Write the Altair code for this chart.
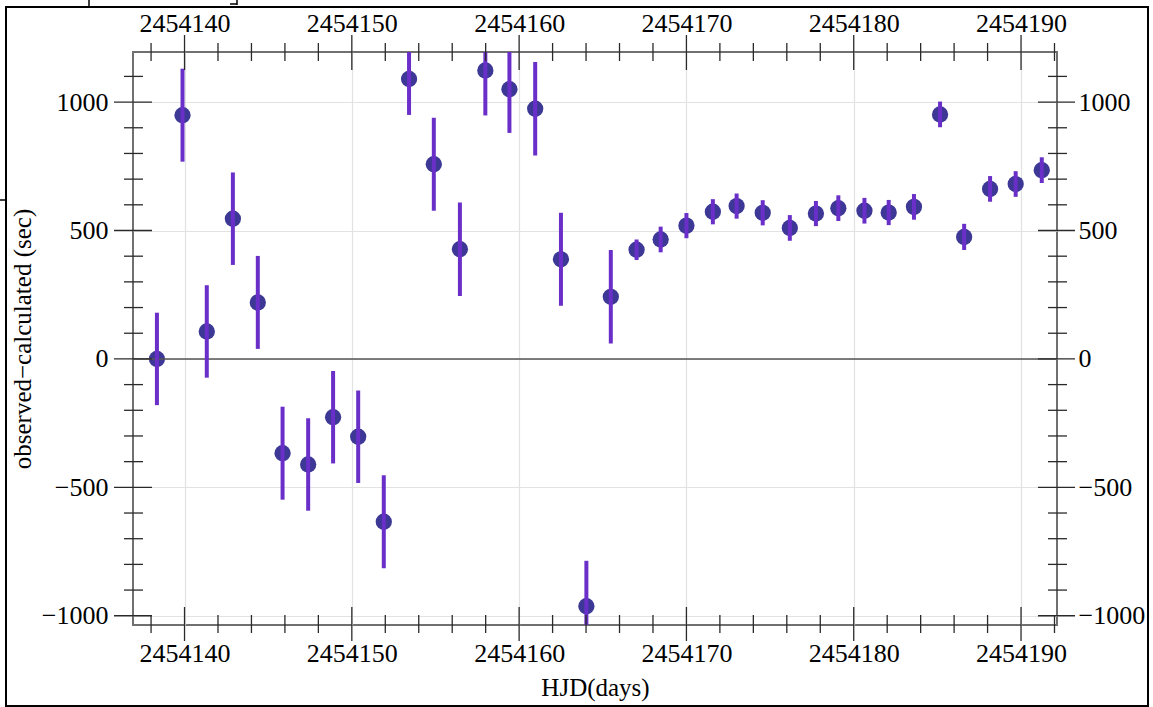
import altair as alt
import pandas as pd

# Timing residuals: heliocentric Julian date, O-C residual (s) and 1-sigma error (s)
hjd = [2454138.35, 2454139.88, 2454141.33, 2454142.89, 2454144.38, 2454145.86,
       2454147.39, 2454148.88, 2454150.38, 2454151.91, 2454153.42, 2454154.90,
       2454156.46, 2454157.98, 2454159.42, 2454160.96, 2454162.50, 2454164.02,
       2454165.48, 2454167.02, 2454168.46, 2454170.00, 2454171.58, 2454173.00,
       2454174.56, 2454176.18, 2454177.74, 2454179.08, 2454180.64, 2454182.09,
       2454183.60, 2454185.16, 2454186.60, 2454188.15, 2454189.68, 2454191.24]
o_minus_c = [0, 949, 107, 546, 220, -367,
             -411, -227, -303, -634, 1090, 758,
             427, 1123, 1050, 974, 388, -963,
             242, 425, 465, 519, 573, 595,
             569, 510, 566, 587, 577, 570,
             592, 952, 475, 662, 681, 735]
sigma = [180, 181, 180, 180, 181, 181,
         180, 180, 180, 181, 140, 181,
         182, 175, 170, 182, 181, 177,
         182, 40, 50, 49, 49, 49,
         49, 50, 49, 50, 50, 49,
         50, 50, 51, 50, 50, 50]

# Frame ticks
x_major = [2454140, 2454150, 2454160, 2454170, 2454180, 2454190]
x_minor = [2454138, 2454142, 2454144, 2454146, 2454148, 2454152, 2454154,
           2454156, 2454158, 2454162, 2454164, 2454166, 2454168, 2454172,
           2454174, 2454176, 2454178, 2454182, 2454184, 2454186, 2454188,
           2454192]
y_major = [-1000, -500, 0, 500, 1000]
y_minor = [-900, -800, -700, -600, -400, -300, -200, -100, 100, 200, 300,
           400, 600, 700, 800, 900, 1100]

W, H = 924, 573
FONT = "Liberation Serif"
TICK = "#2a2a2a"
DOT = "#3d3896"
BAR = "#6a2fc8"

df = pd.DataFrame({"hjd": hjd, "oc": o_minus_c, "err": sigma})
df["lo"] = df["oc"] - df["err"]
df["hi"] = df["oc"] + df["err"]

xs = alt.Scale(domain=[2454136.92, 2454192.15], zero=False, nice=False)
ys = alt.Scale(domain=[-1036, 1195], zero=False, nice=False)

lab = dict(labelFont=FONT, labelFontSize=26, labelColor="black",
           titleFont=FONT, titleFontSize=25, titleFontWeight="normal",
           titleColor="black", ticks=False, domain=False, format="d",
           labelFlush=False, labelOverlap=False)

# Data points with bottom / left axes (and grid)
points = alt.Chart(df).mark_circle(size=265, color=DOT, opacity=1).encode(
    x=alt.X("hjd:Q", scale=xs,
            axis=alt.Axis(orient="bottom", values=x_major,
                          title="HJD(days)", grid=True, gridColor="#e2e2e2",
                          gridWidth=1.2, labelPadding=15, titlePadding=9, **lab)),
    y=alt.Y("oc:Q", scale=ys,
            axis=alt.Axis(orient="left", values=y_major,
                          title="observed\u2212calculated (sec)", grid=True,
                          gridColor="#e2e2e2", gridWidth=1.2, labelPadding=25,
                          titlePadding=6, **lab)),
)

# Error bars drawn over the points, with top / right axes
bars = alt.Chart(df).mark_rule(color=BAR, strokeWidth=4, clip=True).encode(
    x=alt.X("hjd:Q", scale=xs,
            axis=alt.Axis(orient="top", values=x_major, title="",
                          grid=False, labelPadding=16, **lab)),
    y=alt.Y("lo:Q", scale=ys,
            axis=alt.Axis(orient="right", values=y_major, title="",
                          grid=False, labelPadding=21, **lab)),
    y2="hi:Q",
)

zero_line = alt.Chart(pd.DataFrame({"z": [0]})).mark_rule(
    color="#555555", strokeWidth=1.5).encode(
    y=alt.Y("z:Q", scale=ys, axis=None))


def frame_ticks(values, side, inner, outer):
    d = pd.DataFrame({"v": values})
    m = alt.Chart(d).mark_rule(color=TICK, strokeWidth=1.3)
    if side == "bottom":
        return m.encode(x=alt.X("v:Q", scale=xs, axis=None),
                        y=alt.value(H - inner), y2=alt.value(H + outer))
    if side == "top":
        return m.encode(x=alt.X("v:Q", scale=xs, axis=None),
                        y=alt.value(-outer), y2=alt.value(inner))
    if side == "left":
        return m.encode(y=alt.Y("v:Q", scale=ys, axis=None),
                        x=alt.value(-outer), x2=alt.value(inner))
    return m.encode(y=alt.Y("v:Q", scale=ys, axis=None),
                    x=alt.value(W - inner), x2=alt.value(W + outer))


ticks = [
    frame_ticks(x_major, "bottom", 18, 16), frame_ticks(x_minor, "bottom", 10, 8),
    frame_ticks(x_major, "top", 18, 17), frame_ticks(x_minor, "top", 9, 9),
    frame_ticks(y_major, "left", 19, 19), frame_ticks(y_minor, "left", 10, 9),
    frame_ticks(y_major, "right", 19, 18), frame_ticks(y_minor, "right", 9, 10),
]

# Outer border of the figure and the small bracket marks along its edge
one = pd.DataFrame({"a": [0]})
border = alt.Chart(one).mark_rect(fillOpacity=0, stroke="black", strokeWidth=2).encode(
    x=alt.value(-127), x2=alt.value(1015), y=alt.value(-45), y2=alt.value(654))
brackets = [
    alt.Chart(one).mark_rule(color="black", strokeWidth=1.5).encode(
        x=alt.value(-44), y=alt.value(-53), y2=alt.value(-46)),
    alt.Chart(one).mark_rule(color="black", strokeWidth=1.5).encode(
        x=alt.value(104), y=alt.value(-53), y2=alt.value(-47)),
    alt.Chart(one).mark_rule(color="black", strokeWidth=1.5).encode(
        x=alt.value(97), x2=alt.value(104), y=alt.value(-48)),
    alt.Chart(one).mark_rule(color="black", strokeWidth=1.5).encode(
        x=alt.value(-134), x2=alt.value(-127), y=alt.value(148)),
]

chart = alt.layer(
    points, zero_line, bars, *ticks, border, *brackets
).resolve_axis(x="independent", y="independent").properties(
    width=W, height=H,
    autosize=alt.AutoSizeParams(type="none"),
    padding={"left": 133, "top": 52, "right": 96, "bottom": 82},
    background="white",
).configure_view(stroke="#707070", strokeWidth=2)

chart.save("out.html", embed_options={"renderer": "svg", "actions": False})
